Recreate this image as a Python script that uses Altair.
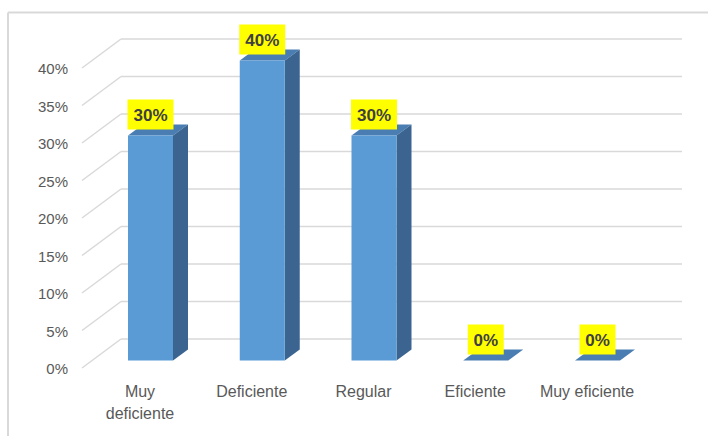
import altair as alt
import pandas as pd

# ---- data ----
categories = ["Muy\ndeficiente", "Deficiente", "Regular", "Eficiente", "Muy eficiente"]
values = [0.30, 0.40, 0.30, 0.0, 0.0]
value_labels = ["30%", "40%", "30%", "0%", "0%"]
ticks = [0.0, 0.05, 0.10, 0.15, 0.20, 0.25, 0.30, 0.35, 0.40]
tick_labels = ["0%", "5%", "10%", "15%", "20%", "25%", "30%", "35%", "40%"]

# ---- geometry / style (pixel sizes converted to data units) ----
X_RANGE = [140, 587]
Y_RANGE = [368, 68]
XU = 4 / (X_RANGE[1] - X_RANGE[0])      # category units per px
YU = 0.4 / (Y_RANGE[0] - Y_RANGE[1])    # value units per px (upwards)

def px_x(p):
    return p * XU

def abs_x(p):
    return (p - X_RANGE[0]) * XU

BAR_DX, BAR_UP = 10.5, 7.5      # bar front plane relative to front of floor
HALF_W = 22.5                   # half width of bar front face
DEPTH_DX, DEPTH_UP = 15, 11     # bar depth
WALL_DX, WALL_UP = 39, 29       # back wall relative to front plane
LEFT_FRONT, RIGHT_BACK = 82, 682

FRONT = "#5B9BD5"
SIDE = "#3B6590"
TOP = "#4A7DB2"
GRID = "#D9D9D9"
TXT = "#595959"
FONT = "Liberation Sans"

xs = alt.Scale(domain=[0, 4], range=X_RANGE, nice=False, zero=False)
ys = alt.Scale(domain=[0, 0.4], range=Y_RANGE, nice=False, zero=False)

def X(f):
    return alt.X(f, type="quantitative", scale=xs, axis=None)

def Y(f):
    return alt.Y(f, type="quantitative", scale=ys, axis=None)

# gridlines on back wall and diagonal lines on the left wall
grid_rows = []
for t, lab in zip(ticks, tick_labels):
    grid_rows.append(dict(
        x=abs_x(LEFT_FRONT + WALL_DX), x2=abs_x(RIGHT_BACK),
        y=t + WALL_UP * YU, y2=t + WALL_UP * YU,
        dx1=abs_x(LEFT_FRONT), dx2=abs_x(LEFT_FRONT + WALL_DX),
        dy1=t, dy2=t + WALL_UP * YU,
        lx=abs_x(68), ly=t - 1 * YU, label=lab))
grid = pd.DataFrame(grid_rows)

back = alt.Chart(grid).mark_rule(color=GRID, strokeWidth=1.5).encode(
    x=X("x"), x2="x2", y=Y("y"), y2="y2")
diag = alt.Chart(grid).mark_rule(color=GRID, strokeWidth=1.5).encode(
    x=X("dx1"), x2="dx2", y=Y("dy1"), y2="dy2")
ylab = alt.Chart(grid).mark_text(align="right", baseline="middle", font=FONT,
                                 fontSize=15, color=TXT).encode(
    x=X("lx"), y=Y("ly"), text="label:N")

# bars
front_rows, side_rows, top_rows, lab_rows, cat_rows = [], [], [], [], []
for i, (c, v, vl) in enumerate(zip(categories, values, value_labels)):
    left = i + px_x(BAR_DX - HALF_W)
    right = i + px_x(BAR_DX + HALF_W)
    base = BAR_UP * YU
    top = v + BAR_UP * YU
    d_x = px_x(DEPTH_DX)
    d_y = DEPTH_UP * YU
    front_rows.append(dict(cat=c, x=left, x2=right, y=top, y2=base))
    side_rows += [dict(cat=c, x=right, y=top, y2=base),
                  dict(cat=c, x=right + d_x, y=top + d_y, y2=base + d_y)]
    top_rows += [dict(cat=c, y=top, x=left, x2=right),
                 dict(cat=c, y=top + d_y, x=left + d_x, x2=right + d_x)]
    cx = i + px_x(BAR_DX)
    cy = top + 21 * YU
    bw = 26 + 10 * (len(vl) - 1)
    lab_rows.append(dict(cat=c, label=vl, cx=cx, cy=cy,
                         bx=cx - px_x(bw / 2), bx2=cx + px_x(bw / 2),
                         by=cy - 15 * YU, by2=cy + 15 * YU))
    cat_rows.append(dict(cat=c, x=i, y=-16 * YU))

front_df = pd.DataFrame(front_rows)
side_df = pd.DataFrame(side_rows)
top_df = pd.DataFrame(top_rows)
lab_df = pd.DataFrame(lab_rows)
cat_df = pd.DataFrame(cat_rows)

top_face = alt.Chart(top_df).mark_area(orient="horizontal", color=TOP).encode(
    y=Y("y"), x=X("x"), x2="x2", detail="cat:N")
side_face = alt.Chart(side_df).mark_area(orient="vertical", color=SIDE).encode(
    x=X("x"), y=Y("y"), y2="y2", detail="cat:N")
front_face = alt.Chart(front_df).mark_rect(color=FRONT).encode(
    x=X("x"), x2="x2", y=Y("y"), y2="y2")

boxes = alt.Chart(lab_df).mark_rect(color="#FFFF00").encode(
    x=X("bx"), x2="bx2", y=Y("by"), y2="by2")
box_text = alt.Chart(lab_df).mark_text(font=FONT, fontSize=17, fontWeight="bold",
                                       color="#404040", baseline="middle",
                                       align="center", dy=1).encode(
    x=X("cx"), y=Y("cy"), text="label:N")

cat_text = alt.Chart(cat_df).mark_text(font=FONT, fontSize=16, color=TXT,
                                       baseline="top", align="center",
                                       lineBreak="\n", lineHeight=22).encode(
    x=X("x"), y=Y("y"), text="cat:N")

frame_df = pd.DataFrame({"k": [0]})
frame_left = alt.Chart(frame_df).mark_rule(color=GRID, strokeWidth=2).encode(
    x=alt.value(8), y=alt.value(12.5), y2=alt.value(436))
frame_top = alt.Chart(frame_df).mark_rule(color=GRID, strokeWidth=2).encode(
    x=alt.value(8), x2=alt.value(708), y=alt.value(12.5))

chart = alt.layer(
    frame_left, frame_top, back, diag, ylab,
    top_face, side_face, front_face, boxes, box_text, cat_text
).properties(
    width=708, height=436, autosize="none", padding=0, background="white"
).configure_view(stroke=None)

chart.save("out.html", embed_options={"renderer": "svg", "actions": False})
